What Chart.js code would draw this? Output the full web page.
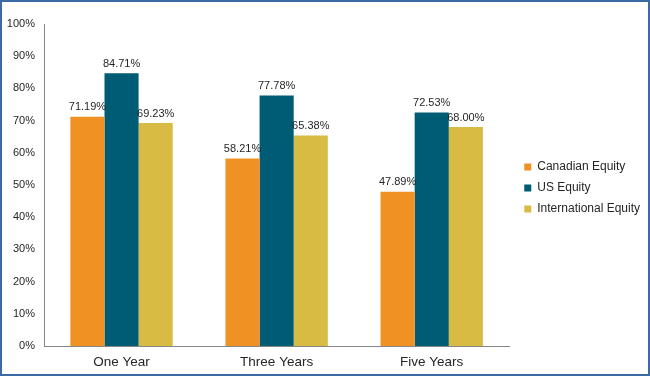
<!DOCTYPE html>
<html>
<head>
<meta charset="utf-8">
<script src="https://cdn.jsdelivr.net/npm/chart.js@4.4.0/dist/chart.umd.min.js"></script>
<style>
  html, body { margin: 0; padding: 0; background: #fff; }
  #wrap {
    width: 650px; height: 376px; box-sizing: border-box;
    border: 2px solid #3c6aa6; background: #fff;
  }
  #wrap canvas { display: block; }
</style>
</head>
<body>
<div id="wrap"><canvas id="returnsChart" width="646" height="372"></canvas></div>
<script>
// Categories and series (percent)
const periods = ['One Year', 'Three Years', 'Five Years'];
const canadianEquity = [71.19, 58.21, 47.89];
const usEquity = [84.71, 77.78, 72.53];
const intlEquity = [69.23, 65.38, 68.00];
const yTicks = [0, 10, 20, 30, 40, 50, 60, 70, 80, 90, 100];

const FONT = '"Liberation Sans", Arial, sans-serif';

// draws the value above each bar
const barValueLabels = {
    id: 'barValueLabels',
    afterDatasetsDraw(chart) {
        const ctx = chart.ctx;
        ctx.save();
        ctx.font = '11px ' + FONT;
        ctx.fillStyle = '#262626';
        ctx.textAlign = 'center';
        ctx.textBaseline = 'bottom';
        chart.data.datasets.forEach((ds, i) => {
            const meta = chart.getDatasetMeta(i);
            meta.data.forEach((bar, j) => {
                ctx.fillText(ds.data[j].toFixed(2) + '%', bar.x, bar.y - 4);
            });
        });
        ctx.restore();
    }
};

// leave a wider gap between the plot and the legend, and centre it on the page
const legendGap = {
    id: 'legendGap',
    beforeLayout(chart) {
        const lg = chart.legend;
        if (lg && !lg._gapPatched) {
            const fit = lg.fit;
            lg.fit = function () { fit.call(this); this.width += 4; };
            lg._gapPatched = true;
        }
    },
    afterLayout(chart) {
        const lg = chart.legend;
        if (!lg) return;
        lg.left += 6;
        lg.top -= 11;
        lg.bottom -= 11;
    }
};

const ctx = document.getElementById('returnsChart').getContext('2d');
new Chart(ctx, {
    type: 'bar',
    data: {
        labels: periods,
        datasets: [
            { label: 'Canadian Equity', data: canadianEquity, backgroundColor: '#ef9223' },
            { label: 'US Equity', data: usEquity, backgroundColor: '#005b74' },
            { label: 'International Equity', data: intlEquity, backgroundColor: '#d8bb43' }
        ]
    },
    options: {
        responsive: false,
        animation: false,
        layout: { padding: { top: 22, left: 0, right: 0, bottom: 0 } },
        datasets: {
            bar: { categoryPercentage: 0.66, barPercentage: 1.0 }
        },
        scales: {
            x: {
                grid: { display: false, tickLength: 0 },
                border: { display: true, color: '#868686' },
                ticks: { color: '#262626', font: { family: FONT, size: 13.5 }, padding: 8 },
                afterFit: axis => { axis.height = 28; }
            },
            y: {
                min: 0,
                max: 100,
                afterBuildTicks: axis => { axis.ticks = yTicks.map(v => ({ value: v })); },
                grid: { display: false, tickLength: 0 },
                border: { display: true, color: '#868686' },
                ticks: {
                    color: '#262626',
                    font: { family: FONT, size: 11 },
                    padding: 9,
                    callback: v => v + '%'
                },
                afterFit: axis => { axis.width = 42; }
            }
        },
        plugins: {
            legend: {
                position: 'right',
                labels: {
                    boxWidth: 7,
                    boxHeight: 7,
                    padding: 9,
                    color: '#262626',
                    font: { family: FONT, size: 12 }
                }
            },
            tooltip: { enabled: false }
        }
    },
    plugins: [barValueLabels, legendGap]
});
</script>
</body>
</html>
